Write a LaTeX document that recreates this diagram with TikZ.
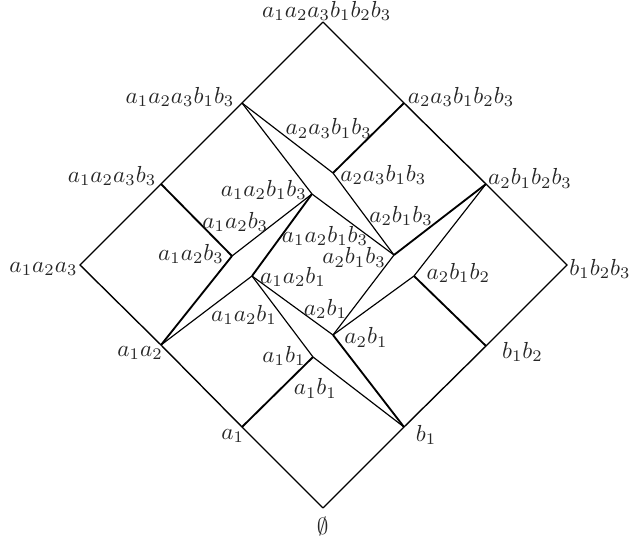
\documentclass[tikz,border=0pt]{standalone}
\usepackage{amsmath}
\usepackage{tikz}
\usetikzlibrary{positioning}
\tikzset{
  lbl/.style={inner sep=0pt, text=black!85, font=\fontsize{9.6}{11}\selectfont},
  edg/.style={line width=0.5pt},
  bedg/.style={line width=0.8pt},
  outer/.style={line width=0.6pt},
}

\begin{document}
\begin{tikzpicture}[x=0.431pt, y=-0.431pt, line join=miter]
\useasboundingbox (0,0) rectangle (629,540);
% outer frame of the lattice
\coordinate (v0) at (323,508);
\coordinate (va1) at (242,427);
\coordinate (va12) at (161,345);
\coordinate (va123) at (80,265);
\coordinate (va123b3) at (161,184);
\coordinate (va123b13) at (242,103);
\coordinate (vtop) at (323,22);
\coordinate (vb1) at (404,427);
\coordinate (vb12) at (486,346);
\coordinate (vb123) at (567,265);
\coordinate (va2b123) at (486,184);
\coordinate (va23b123) at (404,103);
% split inner elements
\coordinate (va1b1) at (313,357);
\coordinate (va2b1) at (333,335);
\coordinate (va12b1) at (252,276);
\coordinate (va12b3) at (232,256);
\coordinate (va12b13) at (312,194);
\coordinate (va23b13) at (333,173);
\coordinate (va2b13) at (394,255);
\coordinate (va2b12) at (414,276);

\draw[outer] (v0)--(va1)--(va12)--(va123)--(va123b3)--(va123b13)--(vtop);
\draw[outer] (v0)--(vb1)--(vb12)--(vb123)--(va2b123)--(va23b123)--(vtop);

\draw[bedg] (va1)--(va1b1);
\draw[bedg] (va123b3)--(va12b3);
\draw[bedg] (va23b123)--(va23b13);
\draw[bedg] (vb12)--(va2b12);
\draw[bedg] (va12)--(va12b3);
\draw[bedg] (va12b1)--(va12b13);
\draw[bedg] (va2b1)--(vb1);
\draw[bedg] (va2b13)--(va2b123);

\draw[edg] (va12)--(va12b1);
\draw[edg] (va12b3)--(va12b13);
\draw[edg] (va12b1)--(va2b1);
\draw[edg] (va12b1)--(va1b1)--(vb1);
\draw[edg] (va2b1)--(va2b13);
\draw[edg] (va2b1)--(va2b12)--(va2b123);
\draw[edg] (va123b13)--(va12b13)--(va2b13);
\draw[edg] (va123b13)--(va23b13)--(va2b13);

% labels
\node[lbl] (ltop) at (326.7,11) {$a_1a_2a_3b_1b_2b_3$};
\node[lbl] (la123b13) at (180,97) {$a_1a_2a_3b_1b_3$};
\node[lbl] (la23b123) at (461,97) {$a_2a_3b_1b_2b_3$};
\node[lbl] (la23b13u) at (328.7,128.3) {$a_2a_3b_1b_3$};
\node[lbl] (la23b13) at (383.3,175) {$a_2a_3b_1b_3$};
\node[lbl] (la123b3) at (112,176) {$a_1a_2a_3b_3$};
\node[lbl] (la12b13) at (263.8,190) {$a_1a_2b_1b_3$};
\node[lbl] (la2b123) at (530,178.3) {$a_2b_1b_2b_3$};
\node[lbl] (la12b3u) at (235.3,221.7) {$a_1a_2b_3$};
\node[lbl] (la2b13u) at (401,216) {$a_2b_1b_3$};
\node[lbl] (la123) at (43.5,269) {$a_1a_2a_3$};
\node[lbl] (la12b3) at (191,254) {$a_1a_2b_3$};
\node[lbl] (la12b13m) at (325,236) {$a_1a_2b_1b_3$};
\node[lbl] (la2b13) at (354,257.5) {$a_2b_1b_3$};
\node[lbl] (la12b1) at (293,276.7) {$a_1a_2b_1$};
\node[lbl] (la2b12) at (458.3,272.7) {$a_2b_1b_2$};
\node[lbl] (lb123) at (600,269) {$b_1b_2b_3$};
\node[lbl] (la2b1u) at (325.5,309) {$a_2b_1$};
\node[lbl] (la12b1l) at (244,315) {$a_1a_2b_1$};
\node[lbl] (la2b1) at (366,337.3) {$a_2b_1$};
\node[lbl] (la12) at (140,353) {$a_1a_2$};
\node[lbl] (lb12) at (522.5,351.7) {$b_1b_2$};
\node[lbl] (la1b1) at (284,356) {$a_1b_1$};
\node[lbl] (la1b1l) at (315.3,388.3) {$a_1b_1$};
\node[lbl] (la1) at (232.7,436) {$a_1$};
\node[lbl] (lb1) at (426,435) {$b_1$};
\node[lbl] (l0) at (322.7,526) {$\emptyset$};
\end{tikzpicture}
\end{document}
